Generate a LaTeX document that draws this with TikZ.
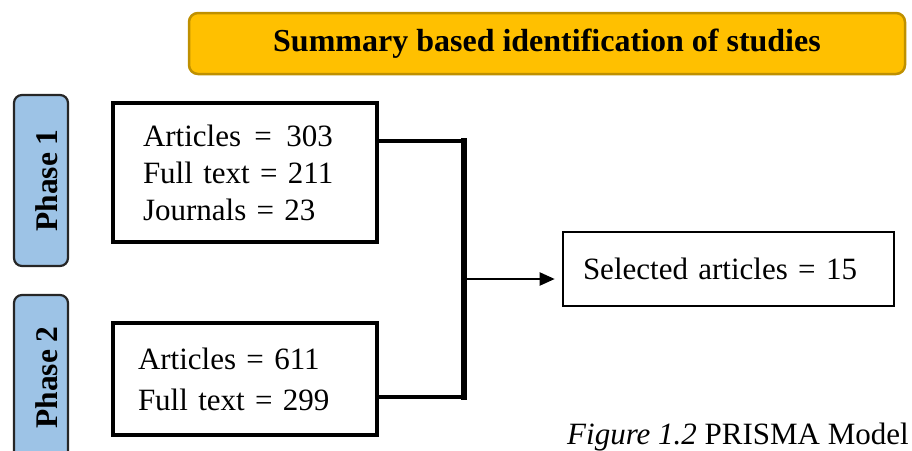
\documentclass[tikz,border=0pt]{standalone}
\usepackage{fontspec}
\setmainfont{Liberation Serif}
\usetikzlibrary{arrows.meta,positioning}
\definecolor{titleCol}{HTML}{FFC000}
\definecolor{titleEdge}{HTML}{BF9000}
\definecolor{tabCol}{HTML}{9DC3E6}
\newcommand{\bodyfont}{\fontsize{31}{37}\selectfont}
\tikzset{
  titlebox/.style={draw=titleEdge, fill=titleCol, rounded corners=9pt, line width=2.5pt,
                   minimum width=716pt, minimum height=61pt, font=\fontsize{32}{38}\selectfont\bfseries},
  phasetab/.style={draw=black!85, fill=tabCol, rounded corners=8pt, line width=2.2pt,
                   minimum width=54pt, minimum height=171pt},
  phaselbl/.style={rotate=90, font=\fontsize{31.5}{37}\selectfont\bfseries, inner sep=0pt},
  countbox/.style={draw, line width=3.2pt, minimum width=264pt, align=left, inner xsep=0pt,
                   font=\bodyfont},
  bracket/.style={line width=4pt, line cap=rect},   % joins the two phases
  feed/.style={-{Triangle[length=15pt,width=13pt]}, line width=2.2pt},
}

\begin{document}
\begin{tikzpicture}[x=1pt,y=-1pt]
  \clip (0,0) rectangle (912,450);
  % heading
  \node[titlebox] (head) at (547,43.5) {Summary based identification of studies};
  % phase tabs
  \node[phasetab] (t1) at (41,180.5) {};
  \node[phasetab, minimum height=165pt] (t2) at (41,377.5) {};
  \node[phaselbl] (l1) at ([xshift=5.5pt]t1.center) {Phase 1};
  \node[phaselbl] (l2) at ([xshift=5.5pt]t2.center) {Phase 2};

  % counts per phase
  \node[countbox, minimum height=139pt, text width=204pt] (b1) at (245,172.5)
    {Articles\hspace{3pt} = \hspace{4pt}303\\Full text = 211\\Journals = 23};
  \node[countbox, minimum height=112pt, text width=214pt, font=\fontsize{31}{41}\selectfont] (b2) at (245,379)
    {Articles = 611\\Full text = 299};
  \node[countbox, minimum width=331pt, minimum height=74pt, text width=291pt, line width=2.6pt] (sel) at (728.5,269)
    {Selected articles = 15};

  % bracket and arrow
  \coordinate (j1) at (464,141);
  \coordinate (j2) at (464,397);
  \coordinate (ja) at (464,279);
  \draw[bracket] (b1.east |- j1) -- (j1);
  \draw[bracket] (b2.east |- j2) -- (j2);
  \draw[bracket, line width=6pt] (j1) -- (j2);
  \draw[feed, shorten >=7pt] (ja) -- (ja -| sel.west);

  \node[anchor=base west, font=\bodyfont, inner sep=0pt] (cap) at (567,444) {\textit{Figure 1.2} PRISMA Model};
\end{tikzpicture}
\end{document}
